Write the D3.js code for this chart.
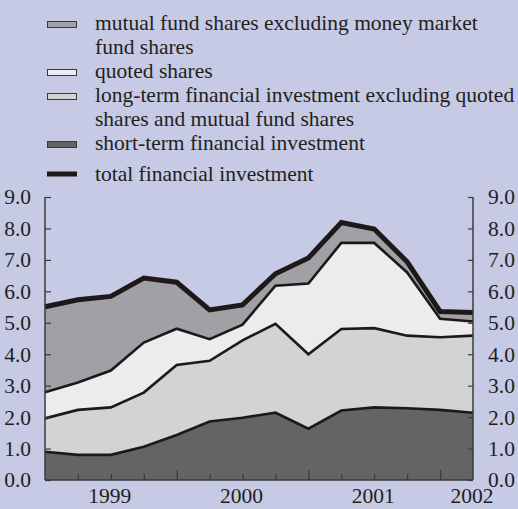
<!DOCTYPE html>
<html>
<head>
<meta charset="utf-8">
<script src="https://cdn.jsdelivr.net/npm/d3@7"></script>
<style>
  html, body { margin: 0; padding: 0; background: #c6cae4; }
  svg text { font-family: "Liberation Serif", "Times New Roman", serif; fill: #231f20; }
</style>
</head>
<body>
<svg id="chart" width="518" height="509"></svg>
<script>
// quarterly observations, index 0..13
var quarters = d3.range(14);
var shortTerm = [0.90, 0.80, 0.80, 1.06, 1.43, 1.86, 1.98, 2.14, 1.63, 2.21, 2.31, 2.28, 2.23, 2.14];
var longTerm  = [1.06, 1.43, 1.51, 1.72, 2.23, 1.93, 2.46, 2.83, 2.37, 2.59, 2.52, 2.31, 2.31, 2.45];
var quoted    = [0.83, 0.87, 1.17, 1.59, 1.15, 0.69, 0.50, 1.21, 2.25, 2.74, 2.71, 2.01, 0.59, 0.45];
var mutual    = [2.72, 2.63, 2.36, 2.05, 1.48, 0.93, 0.63, 0.38, 0.81, 0.65, 0.44, 0.34, 0.23, 0.29];
var total     = [5.51, 5.73, 5.84, 6.42, 6.29, 5.41, 5.57, 6.56, 7.06, 8.19, 7.98, 6.94, 5.36, 5.33];
var years = ["1999", "2000", "2001", "2002"];
var yTicks = [0, 1, 2, 3, 4, 5, 6, 7, 8, 9];

var legendItems = [
  { lines: ["mutual fund shares excluding money market", "fund shares"], color: "#a0a1a5" },
  { lines: ["quoted shares"], color: "#ececef" },
  { lines: ["long-term financial investment excluding quoted", "shares and mutual fund shares"], color: "#d2d3d5" },
  { lines: ["short-term financial investment"], color: "#646466" }
];

var svg = d3.select("#chart");
var plotLeft = 45, plotRight = 473, plotTop = 197, plotBottom = 480;

var x = d3.scaleLinear().domain([0, 13]).range([plotLeft, plotRight]);
var y = d3.scaleLinear().domain([0, 9]).range([plotBottom, plotTop]);

var keys = ["shortTerm", "longTerm", "quoted", "mutual"];
var colors = { shortTerm: "#646466", longTerm: "#d2d3d5", quoted: "#ececef", mutual: "#a0a1a5" };
var rows = quarters.map(function(q, i) {
  return { q: q, shortTerm: shortTerm[i], longTerm: longTerm[i], quoted: quoted[i], mutual: mutual[i] };
});
var layers = d3.stack().keys(keys)(rows);

var area = d3.area()
    .x(function(d) { return x(d.data.q); })
    .y0(function(d) { return y(d[0]); })
    .y1(function(d) { return y(d[1]); });

var topLine = d3.line()
    .x(function(d) { return x(d.data.q); })
    .y(function(d) { return y(d[1]); });

svg.append("rect").attr("width", 518).attr("height", 509).attr("fill", "#c6cae4");

svg.selectAll(".layer")
    .data(layers)
  .enter().append("path")
    .attr("class", "layer")
    .attr("d", area)
    .attr("fill", function(d) { return colors[d.key]; });

// borders between layers (not the top one, the total covers it)
svg.selectAll(".border")
    .data(layers.slice(0, 3))
  .enter().append("path")
    .attr("class", "border")
    .attr("d", topLine)
    .attr("fill", "none")
    .attr("stroke", "#1e1819")
    .attr("stroke-width", 2.6);

var totalLine = d3.line()
    .x(function(d, i) { return x(quarters[i]); })
    .y(function(d) { return y(d); });

svg.append("path")
    .datum(total)
    .attr("d", totalLine)
    .attr("fill", "none")
    .attr("stroke", "#1e1819")
    .attr("stroke-width", 5);

// axes
var axisColor = "#3a3a3e";
var yLeft = d3.axisLeft(y).tickValues(yTicks).tickSize(-6).tickPadding(14).tickFormat(d3.format(".1f"));
var yRight = d3.axisRight(y).tickValues(yTicks).tickSize(-5).tickPadding(15).tickFormat(d3.format(".1f"));

function styleAxis(g) {
  g.select(".domain").attr("stroke", axisColor).attr("stroke-width", 1.5);
  g.selectAll(".tick line").attr("stroke", axisColor).attr("stroke-width", 1.2);
  g.selectAll(".tick text").style("font-size", "21.5px").attr("fill", "#231f20")
    .style("font-family", "'Liberation Serif', 'Times New Roman', serif");
}

svg.append("g").attr("transform", "translate(" + plotLeft + ",0)").call(yLeft).call(styleAxis)
   .select(".domain").attr("d", "M0," + plotTop + "V" + plotBottom);
svg.append("g").attr("transform", "translate(" + plotRight + ",0)").call(yRight).call(styleAxis)
   .select(".domain").attr("d", "M0," + plotTop + "V" + plotBottom);

var xAxis = d3.axisBottom(x).tickValues(quarters.slice(1, 13))
    .tickSize(-6).tickFormat("");
var xg = svg.append("g").attr("transform", "translate(0," + plotBottom + ")").call(xAxis).call(styleAxis);
xg.select(".domain").attr("d", "M" + plotLeft + ",0H" + plotRight);
xg.selectAll(".tick line").attr("y2", function(d) { return d % 4 === 0 ? -10 : -6; });

svg.selectAll(".year")
    .data(years)
  .enter().append("text")
    .attr("class", "year")
    .attr("x", function(d, i) { return x(Math.min(2 + 4 * i, 13)) - 1; })
    .attr("y", 503)
    .attr("text-anchor", "middle")
    .style("font-size", "21.5px")
    .text(function(d) { return d; });

// legend
var lineY = [30, 78, 102, 150];
var lg = svg.append("g");
legendItems.forEach(function(item, i) {
  lg.append("rect")
    .attr("x", 47.5).attr("y", lineY[i] - 8.5)
    .attr("width", 29).attr("height", 6)
    .attr("fill", item.color)
    .attr("stroke", "#3a3a3e").attr("stroke-width", 1);
  item.lines.forEach(function(t, j) {
    lg.append("text")
      .attr("x", 95).attr("y", lineY[i] + j * 24)
      .style("font-size", "21.5px")
      .text(t);
  });
});
lg.append("line")
  .attr("x1", 47).attr("x2", 77).attr("y1", 174).attr("y2", 174)
  .attr("stroke", "#1e1819").attr("stroke-width", 5);
lg.append("text").attr("x", 95).attr("y", 181).style("font-size", "21.5px").text("total financial investment");
</script>
</body>
</html>
